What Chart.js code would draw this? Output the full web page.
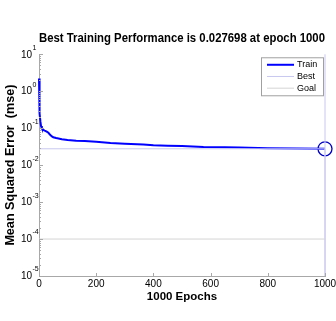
<!DOCTYPE html>
<html><head><meta charset="utf-8">
<script src="https://cdn.jsdelivr.net/npm/chart.js@4/dist/chart.umd.min.js"></script>
<style>html,body{margin:0;padding:0;background:#fff;} #wrap{width:336px;height:321px;}</style>
</head><body><div id="wrap"><canvas id="c" width="336" height="321"></canvas></div>
<script>
const titleText = 'Best Training Performance is 0.027698 at epoch 1000';
const xTitle = '1000 Epochs';
const yTitle = 'Mean Squared Error  (mse)';
const epochs   = [0, 1, 2, 3, 5, 7, 10, 15, 20, 27, 33, 38, 45, 50, 60, 80, 100, 130, 160, 200, 250, 300, 365, 400, 450, 500, 575, 650, 700, 800, 900, 1000];
const trainMSE = [2.2, 0.9, 0.45, 0.25, 0.15, 0.115, 0.1, 0.09, 0.086, 0.081, 0.075, 0.067, 0.06, 0.057, 0.054, 0.05, 0.048, 0.046, 0.045, 0.043, 0.040, 0.038, 0.036, 0.0345, 0.0335, 0.033, 0.031, 0.0303, 0.0298, 0.0288, 0.0283, 0.027698];
const bestEpoch = 1000;
const bestMSE = 0.027698;
const goalMSE = 1e-4;
const xMin = 0, xMax = 1000, xStep = 200;
const yTickExps = [-5, -4, -3, -2, -1, 0, 1];
const legendLabels = ['Train', 'Best', 'Goal'];
const FONT = '"Liberation Sans", Arial, Helvetica, sans-serif';

const trainColor = '#0000ff';
const bestColor = '#c8c8f0';
const goalColor = '#d4d4d4';
const axisColor = '#a8a8a8';

const yMin = Math.pow(10, yTickExps[0]);
const yMax = Math.pow(10, yTickExps[yTickExps.length - 1]);

const decor = {
  id: 'decor',
  afterDraw(chart) {
    const ctx = chart.ctx;
    const xs = chart.scales.x, ys = chart.scales.y;
    const a = chart.chartArea;
    ctx.save();
    ctx.strokeStyle = axisColor;
    ctx.lineWidth = 1;
    for (let i = 0; i < yTickExps.length; i++) {
      const e = yTickExps[i];
      const py = Math.round(ys.getPixelForValue(Math.pow(10, e))) + 0.5;
      ctx.beginPath(); ctx.moveTo(a.left, py); ctx.lineTo(a.left + 4, py); ctx.stroke();
      if (i < yTickExps.length - 1) {
        for (let m = 2; m <= 9; m++) {
          const pm = Math.round(ys.getPixelForValue(m * Math.pow(10, e))) + 0.5;
          ctx.beginPath(); ctx.moveTo(a.left, pm); ctx.lineTo(a.left + 2, pm); ctx.stroke();
        }
      }
    }
    for (let v = xMin; v <= xMax; v += xStep) {
      const px = Math.round(xs.getPixelForValue(v)) + 0.5;
      ctx.beginPath(); ctx.moveTo(px, a.bottom); ctx.lineTo(px, a.bottom - 3); ctx.stroke();
    }
    ctx.fillStyle = '#000';
    for (const e of yTickExps) {
      const py = ys.getPixelForValue(Math.pow(10, e));
      ctx.font = '10px ' + FONT;
      ctx.textAlign = 'right'; ctx.textBaseline = 'middle';
      ctx.fillText('10', 32, py + 0.5);
      ctx.font = '7px ' + FONT;
      ctx.textAlign = 'left';
      ctx.fillText(String(e), 32.5, py - 6.5);
    }
    const lx = a.right - 64, ly = a.top + 3, lw = 62, lh = 38;
    ctx.fillStyle = '#fff';
    ctx.fillRect(lx, ly, lw, lh);
    ctx.strokeStyle = '#a0a0a0';
    ctx.lineWidth = 1;
    ctx.strokeRect(lx + 0.5, ly + 0.5, lw, lh);
    const cols = [trainColor, bestColor, goalColor];
    const widths = [2, 1, 1];
    ctx.font = '9px ' + FONT;
    ctx.textAlign = 'left'; ctx.textBaseline = 'middle';
    for (let i = 0; i < legendLabels.length; i++) {
      const yy = ly + 7.5 + i * 11.7;
      ctx.strokeStyle = cols[i]; ctx.lineWidth = widths[i];
      ctx.beginPath(); ctx.moveTo(lx + 6, yy); ctx.lineTo(lx + 33, yy); ctx.stroke();
      ctx.fillStyle = '#000';
      ctx.fillText(legendLabels[i], lx + 36, yy);
    }
    ctx.restore();
  }
};

new Chart(document.getElementById('c'), {
  type: 'scatter',
  data: {
    datasets: [
      { label: 'Goal', data: [{x: xMin, y: goalMSE}, {x: xMax, y: goalMSE}], showLine: true, borderColor: goalColor, borderWidth: 1, pointRadius: 0, clip: false },
      { label: 'Best', data: [{x: xMin, y: bestMSE}, {x: bestEpoch, y: bestMSE}, {x: bestEpoch, y: yMin}, {x: bestEpoch, y: yMax}], showLine: true, borderColor: bestColor, borderWidth: 1, pointRadius: 0, clip: false },
      { label: 'Train', data: epochs.map((e, i) => ({x: e, y: trainMSE[i]})), showLine: true, borderColor: trainColor, borderWidth: 2, pointRadius: 0, tension: 0, clip: false },
      { label: 'BestPoint', data: [{x: bestEpoch, y: bestMSE}], showLine: false, pointRadius: 7, pointStyle: 'circle', pointBackgroundColor: 'rgba(0,0,0,0)', pointBorderColor: '#0000c8', pointBorderWidth: 1.3, clip: false }
    ]
  },
  options: {
    responsive: false,
    animation: false,
    events: [],
    layout: { padding: { left: 0, right: 0, top: 0, bottom: 0 } },
    plugins: {
      legend: { display: false },
      tooltip: { enabled: false },
      title: { display: true, text: titleText, fullSize: false, color: '#000',
               font: { family: FONT, size: 11.9, weight: 'bold', lineHeight: 1.2 },
               padding: { top: 32, bottom: 8 } }
    },
    scales: {
      x: {
        type: 'linear', min: xMin, max: xMax,
        grid: { display: false, drawTicks: false },
        border: { display: true, color: axisColor },
        ticks: { stepSize: xStep, color: '#000', font: { family: FONT, size: 10 }, padding: 2, maxRotation: 0,
                 callback: (v) => String(v) },
        title: { display: true, text: xTitle, color: '#000', font: { family: FONT, size: 11.5, weight: 'bold', lineHeight: 1.2 }, padding: { top: 0, bottom: 17 } },
        afterFit(s) { s.height = 45; s.paddingRight = 11; s.paddingLeft = 0; }
      },
      y: {
        type: 'logarithmic', min: yMin, max: yMax,
        grid: { display: false, drawTicks: false },
        border: { display: true, color: axisColor },
        ticks: { display: false },
        title: { display: true, text: yTitle, color: '#000', font: { family: FONT, size: 12.6, weight: 'bold', lineHeight: 1.2 }, padding: { top: 2.5, bottom: 0 } },
        afterFit(s) { s.width = 39; }
      }
    }
  },
  plugins: [decor]
});
</script>
</body></html>
